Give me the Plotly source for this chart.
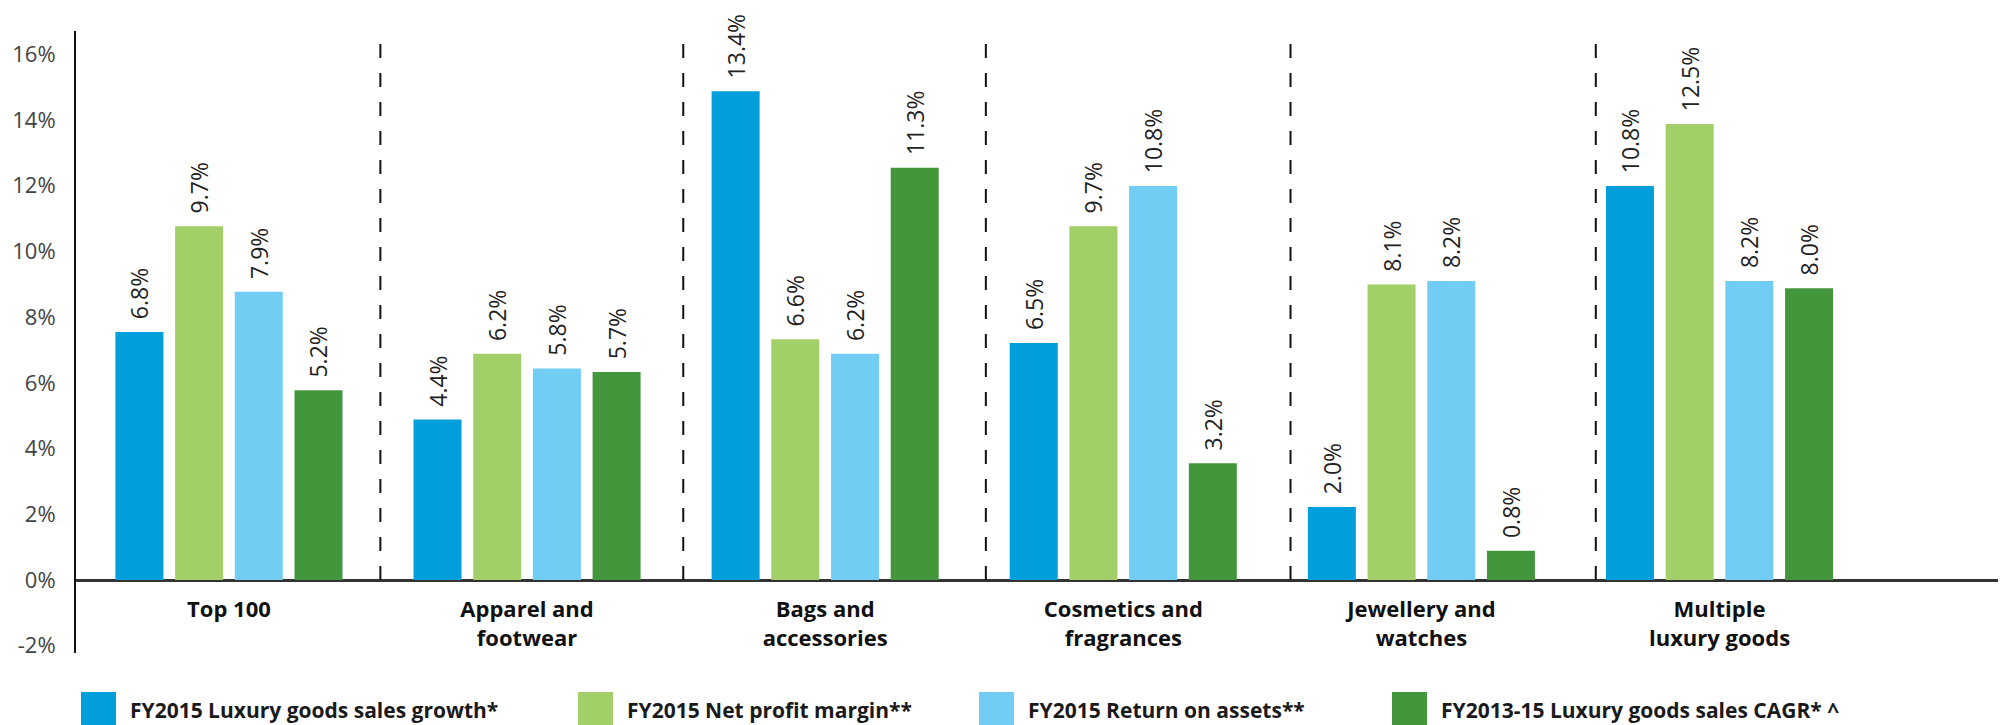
import plotly.graph_objects as go

# ---------------- data ----------------
categories = ["Top 100", "Apparel and<br>footwear", "Bags and<br>accessories",
              "Cosmetics and<br>fragrances", "Jewellery and<br>watches", "Multiple<br>luxury goods"]
series_names = ["FY2015 Luxury goods sales growth*", "FY2015 Net profit margin**",
                "FY2015 Return on assets**", "FY2013-15 Luxury goods sales CAGR* ^"]
sales_growth = [6.8, 4.4, 13.4, 6.5, 2.0, 10.8]
net_margin = [9.7, 6.2, 6.6, 9.7, 8.1, 12.5]
return_assets = [7.9, 5.8, 6.2, 10.8, 8.2, 8.2]
sales_cagr = [5.2, 5.7, 11.3, 3.2, 0.8, 8.0]
series_values = [sales_growth, net_margin, return_assets, sales_cagr]
colors = ["#009EDB", "#A3CF68", "#72CDF4", "#43963B"]

y_ticks = [-2, 0, 2, 4, 6, 8, 10, 12, 14, 16]

# ---------------- layout constants (screen pixels) ----------------
PAGE_OFF = 8                     # default page margin of the html body
SCREEN_W, SCREEN_H = 2006, 725
PLOT_L, PLOT_T, PLOT_B = 76, 31, 653   # plot area in screen pixels
W, H = SCREEN_W - PAGE_OFF, SCREEN_H - PAGE_OFF
ML, MT = PLOT_L - PAGE_OFF, PLOT_T - PAGE_OFF
MB = SCREEN_H - PLOT_B
MR = 0
PW, PH = W - ML - MR, H - MT - MB

data_range = [-2.0, 15.05]        # scale used by the bars
tick_range = [-2.22, 16.71]       # scale of the printed axis labels
x_range = [-0.513, 5.961]
separators = [0.508, 1.524, 2.539, 3.561, 4.585]
FONT = "Open Sans"

fig = go.Figure()
for name, vals, col in zip(series_names, series_values, colors):
    fig.add_trace(go.Bar(
        x=categories, y=vals, name=name, marker=dict(color=col, line=dict(width=0)),
        texttemplate="\u00a0\u2009%{y:.1f}%", textposition="outside", textangle=-90,
        textfont=dict(family=FONT, size=23, color="#222222"),
        cliponaxis=False, showlegend=False, hoverinfo="skip", constraintext="none"))

# invisible helper trace so the printed tick axis is rendered
fig.add_trace(go.Scatter(x=[categories[0]], y=[0], yaxis="y2", mode="markers",
                         marker=dict(opacity=0), showlegend=False, hoverinfo="skip"))

shapes = []
for s in separators:
    shapes.append(dict(type="line", xref="x", yref="y", x0=s, x1=s, y0=0, y1=data_range[1],
                       line=dict(color="#111111", width=2, dash="14px,15px")))

# custom legend (screen pixel positions)
legend_sq_px = [81, 578, 979, 1392]
sq_w, sq_top, sq_bot, txt_mid = 35, 692, 727, 710
annotations = []
for name, col, px in zip(series_names, colors, legend_sq_px):
    shapes.append(dict(type="rect", xref="paper", yref="paper",
                       x0=(px - PLOT_L) / PW, x1=(px + sq_w - PLOT_L) / PW,
                       y0=(PLOT_B - sq_bot) / PH, y1=(PLOT_B - sq_top) / PH,
                       fillcolor=col, line=dict(width=0)))
    annotations.append(dict(xref="paper", yref="paper", x=(px + sq_w + 12 - PLOT_L) / PW,
                            y=(PLOT_B - txt_mid) / PH, xanchor="left", yanchor="middle",
                            text="<b>" + name + "</b>", showarrow=False,
                            font=dict(family=FONT, size=21, color="#1a1a1a")))

fig.update_layout(
    width=W, height=H, margin=dict(l=ML, r=MR, t=MT, b=MB, pad=0),
    paper_bgcolor="white", plot_bgcolor="white",
    barmode="group", bargap=0.199, bargroupgap=0.196,
    font=dict(family=FONT),
    shapes=shapes, annotations=annotations,
    xaxis=dict(range=x_range, anchor="free",
               position=(0 - data_range[0]) / (data_range[1] - data_range[0]),
               showline=False, showgrid=False, zeroline=False, ticks="",
               tickfont=dict(family=FONT, size=22, color="#111111"),
               tickmode="array", tickvals=categories,
               ticktext=["<b>" + c + "</b>" for c in categories], ticklabelstandoff=14),
    yaxis=dict(range=data_range, showticklabels=False, showgrid=False, showline=False,
               zeroline=True, zerolinecolor="#333333", zerolinewidth=3, ticks=""),
    yaxis2=dict(range=tick_range, overlaying="y", side="left", anchor="x",
                tickvals=y_ticks, ticktext=[f"{v}%" for v in y_ticks],
                showgrid=False, zeroline=False, showline=True, linecolor="#111111", linewidth=2,
                ticks="", ticklabelstandoff=14,
                tickfont=dict(family=FONT, size=22, color="#444444")),
)

fig.write_html("out.html")
